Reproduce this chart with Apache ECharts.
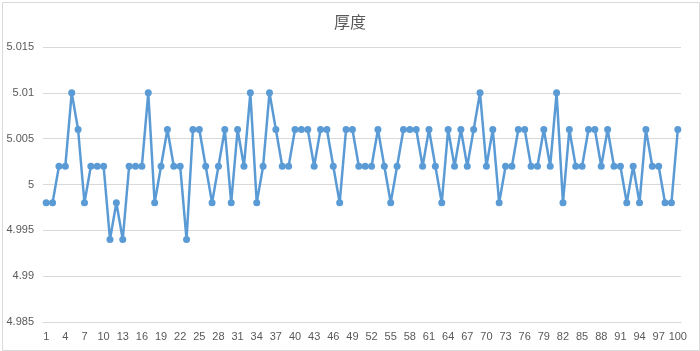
<!DOCTYPE html>
<html>
<head>
<meta charset="utf-8">
<script src="https://cdn.jsdelivr.net/npm/echarts@6/dist/echarts.min.js"></script>
<style>html,body{margin:0;padding:0;background:#fff}#c{width:700px;height:351px}</style>
</head>
<body>
<div id="c"></div>
<script>
var titleText = '厚度';
var categories = [];
for (var i = 1; i <= 100; i++) categories.push(String(i));
var thickness = [
  4.998, 4.998, 5.002, 5.002, 5.010, 5.006, 4.998, 5.002, 5.002, 5.002,
  4.994, 4.998, 4.994, 5.002, 5.002, 5.002, 5.010, 4.998, 5.002, 5.006,
  5.002, 5.002, 4.994, 5.006, 5.006, 5.002, 4.998, 5.002, 5.006, 4.998,
  5.006, 5.002, 5.010, 4.998, 5.002, 5.010, 5.006, 5.002, 5.002, 5.006,
  5.006, 5.006, 5.002, 5.006, 5.006, 5.002, 4.998, 5.006, 5.006, 5.002,
  5.002, 5.002, 5.006, 5.002, 4.998, 5.002, 5.006, 5.006, 5.006, 5.002,
  5.006, 5.002, 4.998, 5.006, 5.002, 5.006, 5.002, 5.006, 5.010, 5.002,
  5.006, 4.998, 5.002, 5.002, 5.006, 5.006, 5.002, 5.002, 5.006, 5.002,
  5.010, 4.998, 5.006, 5.002, 5.002, 5.006, 5.006, 5.002, 5.006, 5.002,
  5.002, 4.998, 5.002, 4.998, 5.006, 5.002, 5.002, 4.998, 4.998, 5.006
];
var yMin = 4.985, yMax = 5.015, yStep = 0.005;

var chart = echarts.init(document.getElementById('c'));
chart.setOption({
  animation: false,
  backgroundColor: '#fff',
  graphic: [{
    type: 'rect', left: 0, top: 0,
    shape: { x: 0.5, y: 0.5, width: 697, height: 348 },
    style: { fill: 'none', stroke: '#d9d9d9', lineWidth: 1 },
    silent: true
  }],
  title: {
    text: titleText, left: 'center', top: 9,
    textStyle: { color: '#595959', fontSize: 16, fontWeight: 'normal', fontFamily: 'Noto Sans CJK SC' }
  },
  grid: { left: 43, right: 19, top: 47, bottom: 29, containLabel: false },
  xAxis: {
    type: 'category', data: categories, boundaryGap: true,
    axisLine: { lineStyle: { color: '#d9d9d9' } },
    axisTick: { show: false },
    axisLabel: { interval: 2, color: '#595959', fontSize: 11, fontFamily: 'Liberation Sans', margin: 9 }
  },
  yAxis: {
    type: 'value', min: yMin, max: yMax, interval: yStep,
    axisLine: { show: false }, axisTick: { show: false },
    splitLine: { lineStyle: { color: '#d9d9d9' } },
    axisLabel: {
      color: '#595959', fontSize: 11, fontFamily: 'Liberation Sans', margin: 9,
      formatter: function (v) { return String(parseFloat(v.toFixed(3))); }
    }
  },
  series: [{
    type: 'line', data: thickness,
    symbol: 'circle', symbolSize: 7, showSymbol: true, showAllSymbol: true,
    lineStyle: { color: '#5b9bd5', width: 2.5 },
    itemStyle: { color: '#5b9bd5' }
  }]
});
</script>
</body>
</html>
